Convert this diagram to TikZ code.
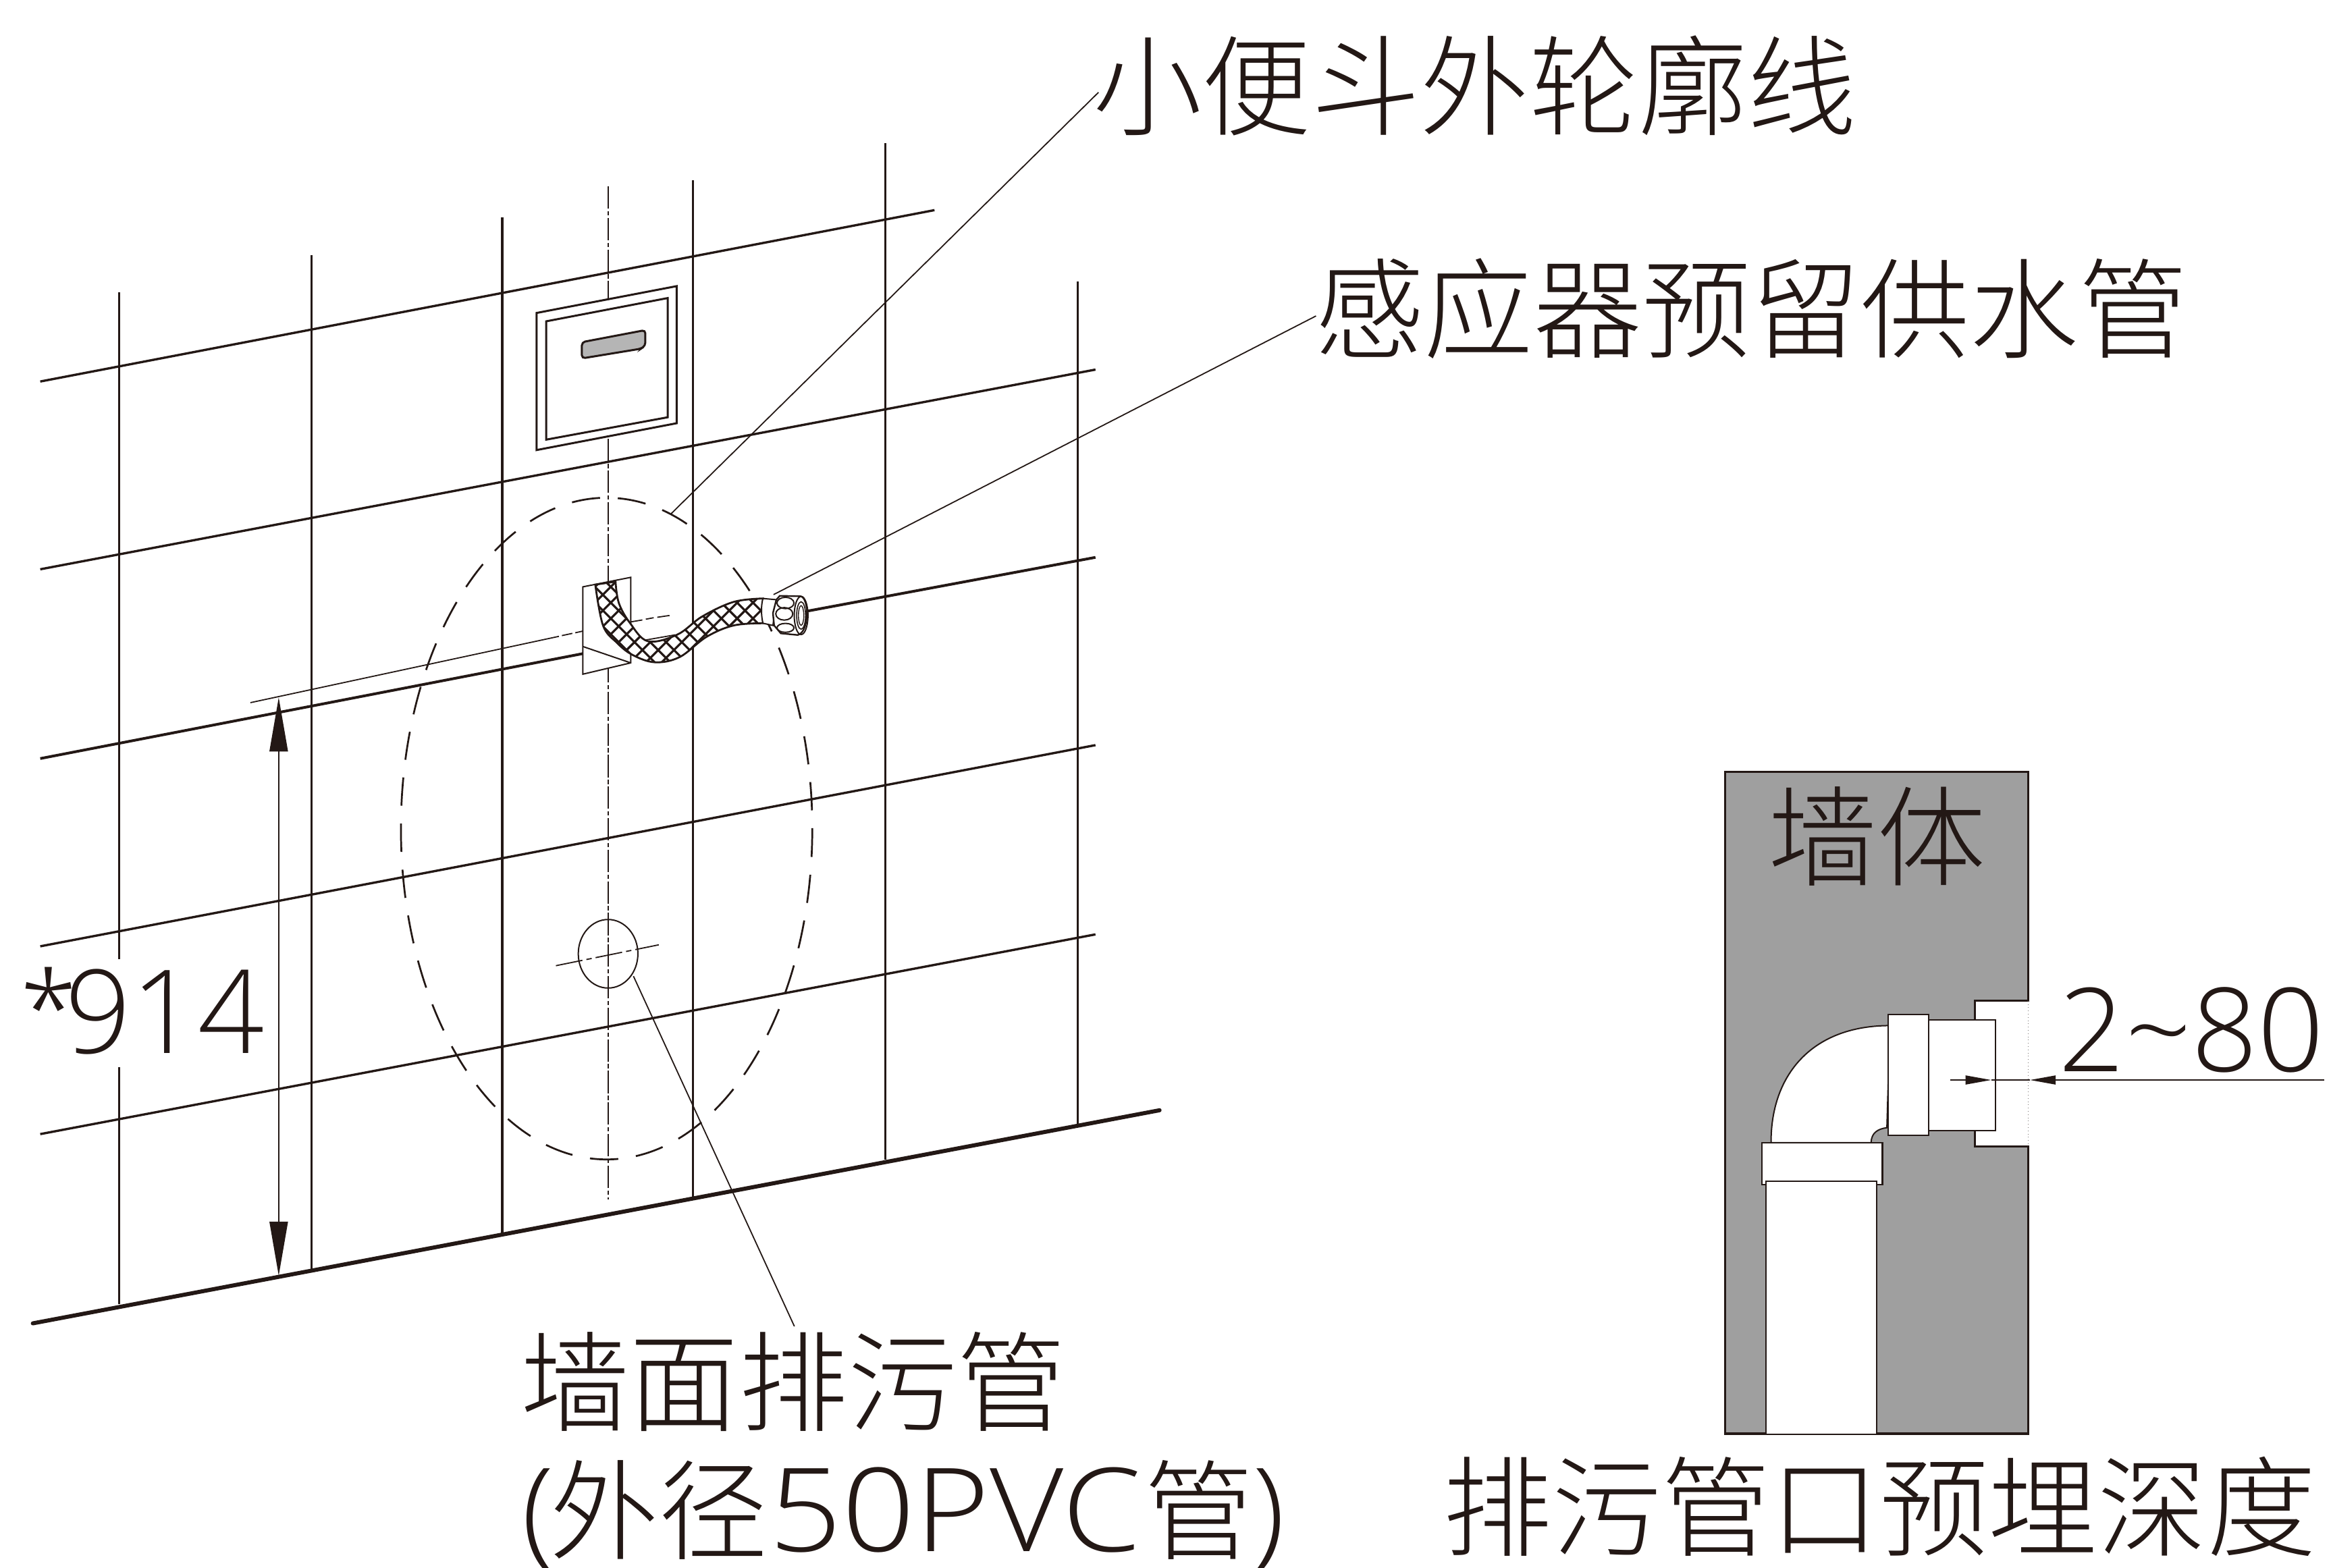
\documentclass[tikz,border=0pt]{standalone}
\usepackage{fontspec}
\setmainfont{Liberation Sans}
\newfontfamily\cjk{Noto Sans CJK SC Light}
\newfontfamily\lat{Open Sans Light}
\usetikzlibrary{arrows.meta}
\definecolor{ink}{HTML}{231815}
\definecolor{wallgray}{HTML}{9F9F9F}
\definecolor{slotgray}{HTML}{B5B5B5}
\newcommand{\cjkT}[1]{{\cjk\fontsize{40.4pt}{44pt}\selectfont #1}}
\newcommand{\latT}[1]{{\lat\fontsize{43pt}{48pt}\selectfont #1}}
\tikzset{
 gridline/.style={ink,line width=0.85pt},
 floorline/.style={ink,line width=1.5pt,line cap=round},
 leader/.style={ink,line width=0.45pt},
 thick part/.style={ink,line width=0.6pt},
 centerline/.style={ink,line width=0.55pt,dash pattern=on 8.3pt off 0.9pt on 1.6pt off 0.9pt},
 outlinedash/.style={ink,line width=0.68pt,dash pattern=on 10.5pt off 6.6pt},
 axisline/.style={ink,line width=0.45pt},
 label/.style={ink,inner sep=0pt,anchor=base west},
 dimarrow/.style={ink,line width=0.42pt,-{Triangle[length=20pt,width=6.8pt]}},
 smallarrow/.style={ink,line width=0.42pt,-{Triangle[length=9.5pt,width=3.3pt]}},
}
\begin{document}
\begin{tikzpicture}[x=0.55195pt,y=-0.55195pt]
\useasboundingbox (0,0) rectangle (1564,1051.8);
% horizontal courses
\draw[gridline] (27,256) -- (627,141);
\draw[gridline] (27,382) -- (735,248);
\draw[gridline,line width=1pt] (27,509) -- (391,438.6);
\draw[gridline,line width=1pt] (542,410) -- (735,374);
\draw[gridline] (27,635) -- (735,500);
\draw[gridline] (27,761) -- (735,627);
% vertical courses
\draw[gridline] (80,196) -- (80,643.7);
\draw[gridline] (80,716) -- (80,875);
\draw[gridline] (209,171) -- (209,853);
\draw[gridline] (337,146) -- (337,828);
\draw[gridline] (465,121) -- (465,803);
\draw[gridline] (594,96) -- (594,778);
\draw[gridline] (723,189) -- (723,755);
\draw[floorline] (22,888) -- (778,745);
% centre line and outline
\draw[centerline] (408,125) -- (408,805);
\draw[outlinedash] (407,556) ellipse [x radius=138,y radius=222];
% sensor
\draw[thick part,line width=0.75pt,fill=white] (360,210) -- (454,192) -- (454,284) -- (360,302) -- cycle;
\draw[thick part,line width=0.75pt,fill=white] (366.5,215.6) -- (448,200) -- (448,280) -- (366.5,295) -- cycle;
\draw[thick part,line width=0.75pt,fill=slotgray,rounded corners=1.2pt] (390.4,229.6) -- (433,221.5) -- (433,232) -- (430,234) -- (390.4,240.5) -- cycle;
% axis through supply
\coordinate (dimTop) at (187,468);
\draw[axisline] (168,471.5) -- (375,427);
\draw[axisline] (377,426.5) -- (384,425);
\draw[axisline] (386,424.6) -- (391,423.5);
\draw[axisline] (423.2,417.3) -- (431,416);
\draw[axisline] (433.3,415.5) -- (438.6,414.5);
\draw[axisline] (441,414.2) -- (449.2,413);
% bracket
\draw[thick part,line width=0.5pt,fill=white] (391,393.8) -- (423.2,387.4) -- (423.2,444.8) -- (391,452.4) -- cycle;
\draw[thick part,line width=0.5pt] (391,433.8) -- (423.2,444.8);
\draw[leader] (433,429.5) -- (453,426);
% hose
\def\hosepath{plot[smooth,tension=0.6] coordinates {(399.4,392.3) (404.6,419.7) (413.7,431.1) (424.3,439.4) (439.4,444.4) (456,440.9) (474.1,427.3) (492.2,419.7) (511.9,418.2)} -- plot[smooth,tension=0.6] coordinates {(511.9,401.6) (492.2,403.9) (471.1,413.7) (454.5,425.8) (434.8,430.3) (422.8,418.2) (415.2,404.6) (413,390.3)} -- cycle}
\fill[white] \hosepath;
\begin{scope}
\clip \hosepath;
\foreach \k in {0,...,26} {
  \draw[ink,line width=0.8pt] ({270+\k*10.6},360) -- ++(130,130);
  \draw[ink,line width=0.8pt] ({380+\k*10.6},360) -- ++(-130,130);
}
\end{scope}
\draw[thick part,line width=0.7pt] \hosepath;
% hose end and nut
\draw[thick part,line width=0.5pt,fill=white] (511.9,401.6) -- (520.9,402.4) -- (518.6,419.7) -- (511.9,418.2) .. controls (510.6,413) and (510.6,406) .. (511.9,401.6) -- cycle;
\draw[thick part,fill=white] (520.9,402.4) -- (523.2,399.8) -- (536.8,400.1) -- (537.5,400.2) .. controls (543,402) and (543,424) .. (535.3,426.1) -- (523.9,425) -- (519.4,419.7) -- (518.6,411.4) -- cycle;
\draw[thick part,line width=0.5pt] (537.5,413) ellipse [x radius=4.6,y radius=12.8];
\draw[thick part,line width=0.4pt] (537.5,413) ellipse [x radius=3,y radius=9.2];
\draw[thick part,line width=0.35pt] (537.5,413) ellipse [x radius=1.8,y radius=6.6];
\draw[thick part,line width=0.5pt] (527,404.6) ellipse [x radius=5.7,y radius=3.8];
\draw[thick part,line width=0.5pt] (526.2,411.9) ellipse [x radius=5.7,y radius=4.2];
\draw[thick part,line width=0.5pt] (527,421.3) ellipse [x radius=5.7,y radius=3];
% drain on the wall
\draw[leader,line width=0.5pt] (408,640) ellipse [x radius=20,y radius=23];
\draw[axisline,dash pattern=on 10pt off 1.5pt on 2pt off 1.5pt] (373,648) -- (442,634);
% labels
\node[label] (lOutline) at (733,85.5) {\cjkT{小便斗外轮廓线}};
\node[label] (lSupply) at (882,235) {\cjkT{感应器预留供水管}};
\node[label] (lDrain) at (349,955) {\cjkT{墙面排污管}};
\node[label] (lDrainB) at (350,1041) {\latT{(}\hspace{-1.5pt}\cjkT{外径}\hspace{0.5pt}\scalebox{1.1}[1]{\latT{50PVC}}\hspace{1pt}\cjkT{管}\latT{)}};
\node[label] (lDepth) at (968,1039) {\cjkT{排污管口预埋深度}};
\node[label] (lDim) at (13.5,707) {\raisebox{3pt}{\lat\fontsize{38pt}{42pt}\selectfont *}\hspace{-4.4pt}\latT{914}};
% leaders
\coordinate (outlinePt) at (450,345);
\coordinate (hoseNut) at (519,399);
\coordinate (drainPt) at (425,655);
\draw[leader] (737,62) -- (outlinePt);
\draw[leader] (883,212) -- (hoseNut);
\draw[leader] (drainPt) -- (533,890);
% height dimension
\coordinate (dimMid) at (187,660);
\coordinate (dimBot) at (187,856);
\draw[dimarrow] (dimMid) -- (dimTop);
\draw[dimarrow] (dimMid) -- (dimBot);
% wall section
\draw[ink,line width=0.8pt,fill=wallgray] (1157.5,518) -- (1361,518) -- (1361,671.6) -- (1325,671.6) -- (1325,769.2) -- (1361,769.2) -- (1361,962) -- (1157.5,962) -- cycle;
\draw[ink!60,line width=0.2pt,densely dotted] (1361,671.6) -- (1361,769.2);
\draw[thick part,line width=0.5pt,fill=white] (1294,684.4) rectangle (1339,758.7);
\draw[thick part,line width=0.5pt,fill=white] (1188.3,766.7) -- (1188.3,765.5) .. controls (1188.5,722) and (1215,688.2) .. (1268,688.2) -- (1266,756.7) .. controls (1260,757.5) and (1255.6,760) .. (1255.4,766.7) -- cycle;
\draw[thick part,line width=0.55pt,fill=white] (1267,680.9) rectangle (1294,761.7);
\draw[thick part,line width=0.55pt,fill=white] (1182,766.7) rectangle (1263,795);
\draw[thick part,line width=0.55pt,fill=white] (1185,962) -- (1185,792.7) -- (1259,792.7) -- (1259,962);
\node[label] (lWall) at (1186,589) {\cjkT{墙体}};
\node[label] (lGap) at (1381,719) {\latT{2\textasciitilde 80}};
% gap dimension
\coordinate (gapA) at (1308.5,724.7);
\coordinate (gapB) at (1336,724.7);
\coordinate (gapC) at (1559.5,724.7);
\coordinate (gapD) at (1362,724.7);
\draw[smallarrow] (gapA) -- (gapB);
\draw[smallarrow] (gapC) -- (gapD);
\draw[leader] (gapB) -- (gapD);
\end{tikzpicture}
\end{document}
